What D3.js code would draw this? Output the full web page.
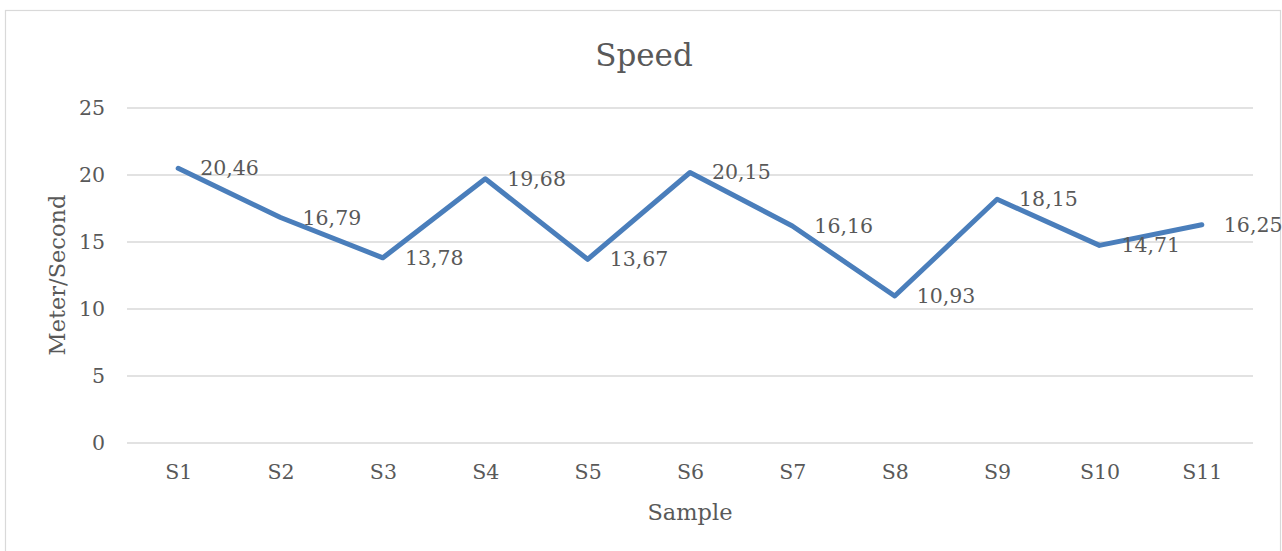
<!DOCTYPE html>
<html>
<head>
<meta charset="utf-8">
<script src="https://cdn.jsdelivr.net/npm/d3@7"></script>
<style>
  html, body { margin: 0; padding: 0; background: #fff; }
  svg { display: block; }
  text { font-family: "DejaVu Serif", "Liberation Serif", serif; fill: #595959; }
</style>
</head>
<body>
<svg id="chart" width="1282" height="551"></svg>
<script>
// Speed measured per sample, in metres per second
const samples = ["S1", "S2", "S3", "S4", "S5", "S6", "S7", "S8", "S9", "S10", "S11"];
const speeds = [20.46, 16.79, 13.78, 19.68, 13.67, 20.15, 16.16, 10.93, 18.15, 14.71, 16.25];
const yTicks = [0, 5, 10, 15, 20, 25];

const svg = d3.select("#chart");
const plot = { left: 127, right: 1253, top: 107.5, bottom: 442.5 };

// Chart frame
svg.append("rect")
  .attr("x", 5.5).attr("y", 10.5)
  .attr("width", 1275).attr("height", 560)
  .attr("fill", "#fff").attr("stroke", "#d9d9d9").attr("stroke-width", 1.2);

const x = d3.scalePoint().domain(samples).range([plot.left, plot.right]).padding(0.5);
const y = d3.scaleLinear().domain([0, 25]).range([plot.bottom, plot.top]);

// Horizontal gridlines and value labels
const yAxis = d3.axisLeft(y).tickValues(yTicks).tickSize(-(plot.right - plot.left)).tickPadding(22);
const gy = svg.append("g").attr("transform", `translate(${plot.left},0)`).call(yAxis);
gy.select(".domain").remove();
gy.selectAll(".tick line").attr("stroke", "#d9d9d9").attr("stroke-width", 1.3);
gy.selectAll(".tick text").attr("font-size", 20.5).attr("fill", "#595959")
  .style("font-family", '"DejaVu Serif", serif');

// Category labels along the bottom
const xAxis = d3.axisBottom(x).tickSize(0).tickPadding(22);
const gx = svg.append("g").attr("transform", `translate(0,${plot.bottom})`).call(xAxis);
gx.select(".domain").remove();
gx.selectAll(".tick text").attr("font-size", 20.5).attr("fill", "#595959")
  .style("font-family", '"DejaVu Serif", serif');

// Speed line
const line = d3.line().x((d, i) => x(samples[i])).y(d => y(d));
svg.append("path")
  .datum(speeds)
  .attr("d", line)
  .attr("fill", "none")
  .attr("stroke", "#4a7ebb")
  .attr("stroke-width", 5)
  .attr("stroke-linejoin", "round")
  .attr("stroke-linecap", "round");

// Value labels to the right of each point
svg.append("g").selectAll("text")
  .data(speeds)
  .join("text")
  .attr("x", (d, i) => x(samples[i]) + 22)
  .attr("y", d => y(d) + 7)
  .attr("font-size", 20.5)
  .attr("fill", "#404040")
  .text(d => d.toFixed(2).replace(".", ","));

// Titles
svg.append("text")
  .attr("x", 644).attr("y", 66)
  .attr("text-anchor", "middle")
  .attr("font-size", 31)
  .text("Speed");

svg.append("text")
  .attr("transform", `translate(65,${(plot.top + plot.bottom) / 2}) rotate(-90)`)
  .attr("text-anchor", "middle")
  .attr("font-size", 22.5)
  .text("Meter/Second");

svg.append("text")
  .attr("x", (plot.left + plot.right) / 2).attr("y", 520)
  .attr("text-anchor", "middle")
  .attr("font-size", 22.5)
  .text("Sample");
</script>
</body>
</html>
